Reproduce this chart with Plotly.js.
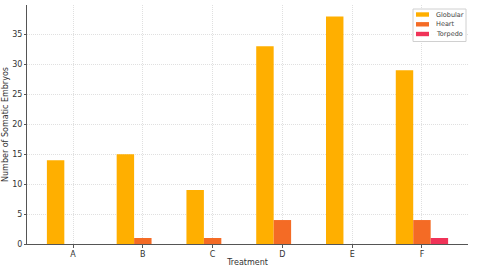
<!DOCTYPE html>
<html>
<head>
<meta charset="utf-8">
<script src="https://cdn.plot.ly/plotly-3.0.1.min.js"></script>
<style>html,body{margin:0;padding:0;background:#fff;}#chart{width:480px;height:274px;}</style>
</head>
<body>
<div id="chart"></div>
<script>
const categories = ['A','B','C','D','E','F'];
const seriesNames = ['Globular','Heart','Torpedo'];
const globular = [14, 15, 9, 33, 38, 29];
const heart = [0, 1, 1, 4, 0, 4];
const torpedo = [0, 0, 0, 0, 0, 1];
const colors = ['#FFAF00', '#F46B25', '#F03358'];

const W = 480, H = 274;
const M = {l: 27, r: 12, t: 5, b: 30};
const pw = W - M.l - M.r, ph = H - M.t - M.b;
const px = x => (x - M.l) / pw;
const py = y => 1 - (y - M.t) / ph;

const data = [globular, heart, torpedo].map((vals, i) => ({
  type: 'bar',
  name: seriesNames[i],
  x: categories,
  y: vals,
  marker: {color: colors[i], line: {width: 0}},
  hoverinfo: 'none',
  showlegend: false
}));

// Manual compact legend (matplotlib-style)
const shapes = [{
  type: 'rect', xref: 'paper', yref: 'paper',
  x0: px(413), x1: px(466), y0: py(41.5), y1: py(9),
  line: {color: '#d0d0d0', width: 1}, fillcolor: 'rgba(255,255,255,0.85)'
}];
const annotations = [];
const rowY = [14.5, 24.3, 34];
seriesNames.forEach((name, i) => {
  shapes.push({
    type: 'rect', xref: 'paper', yref: 'paper',
    x0: px(416), x1: px(429), y0: py(rowY[i] + 2.2), y1: py(rowY[i] - 2.2),
    line: {width: 0}, fillcolor: colors[i]
  });
  annotations.push({
    xref: 'paper', yref: 'paper', x: px(434), y: py(rowY[i]),
    xanchor: 'left', yanchor: 'middle', showarrow: false,
    text: name, font: {size: 6.5, color: '#444', family: 'DejaVu Sans, sans-serif'}
  });
});

const layout = {
  width: W, height: H,
  margin: M,
  paper_bgcolor: '#fff', plot_bgcolor: '#fff',
  font: {family: 'DejaVu Sans, sans-serif', size: 8, color: '#333'},
  barmode: 'group', bargap: 0.25, bargroupgap: 0,
  xaxis: {
    type: 'category', range: [-0.66, 5.66],
    showline: true, linecolor: '#555', linewidth: 1,
    ticks: 'outside', ticklen: 3, tickcolor: '#555',
    ticklabelstandoff: -1,
    showgrid: true, gridcolor: '#e0e0e0', griddash: '1px,1px', gridwidth: 1,
    zeroline: false,
    title: {text: 'Treatment', font: {size: 8, color: '#333'}, standoff: 1},
    tickfont: {size: 8, color: '#333'}
  },
  yaxis: {
    range: [0, 39.9], dtick: 5,
    showline: true, linecolor: '#555', linewidth: 1,
    ticks: 'outside', ticklen: 2, tickcolor: '#555',
    showgrid: true, gridcolor: '#e0e0e0', griddash: '1px,1px', gridwidth: 1,
    zeroline: false,
    title: {text: 'Number of Somatic Embryos', font: {size: 8, color: '#333'}, standoff: 2},
    tickfont: {size: 8, color: '#333'}
  },
  shapes: shapes,
  annotations: annotations,
  showlegend: false
};

Plotly.newPlot('chart', data, layout, {staticPlot: true, displayModeBar: false});
</script>
</body>
</html>
